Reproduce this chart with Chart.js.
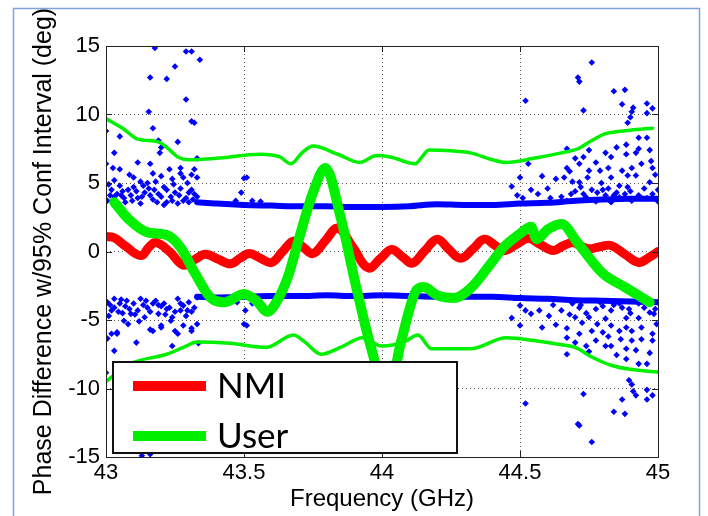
<!DOCTYPE html>
<html>
<head>
<meta charset="utf-8">
<script src="https://cdn.jsdelivr.net/npm/chart.js@4.4.1/dist/chart.umd.min.js"></script>
<style>
    html, body { margin: 0; padding: 0; background: #fff; }
    #chart-body { display: block; }
</style>
</head>
<body>
<canvas id="chart-body" width="708" height="516"></canvas>
<script>
const freqTicks = [43, 43.5, 44, 44.5, 45];
const phaseTicks = [-15, -10, -5, 0, 5, 10, 15];

// NMI phase difference
const nmiFreq = [43.0, 43.03, 43.07, 43.126, 43.155, 43.18, 43.23, 43.28, 43.32, 43.36, 43.405, 43.45, 43.485, 43.52, 43.56, 43.6, 43.64, 43.68, 43.715, 43.75, 43.795, 43.84, 43.895, 43.95, 43.995, 44.035, 44.075, 44.11, 44.155, 44.2, 44.24, 44.285, 44.33, 44.37, 44.41, 44.44, 44.485, 44.53, 44.575, 44.62, 44.655, 44.69, 44.72, 44.75, 44.79, 44.83, 44.88, 44.93, 44.97, 45.0];
const nmiPhase = [1.1, 1.0, 0.4, -0.3, 0.3, 0.66, 0.0, -1.0, -0.6, -0.2, -0.55, -0.9, -0.5, -0.15, -0.5, -0.8, 0.0, 0.75, 0.3, -0.15, 0.8, 1.7, 0.3, -1.2, -0.5, 0.15, -0.4, -0.85, 0.05, 0.9, 0.2, -0.5, 0.2, 0.9, 0.45, 0.05, 0.5, 0.95, 0.5, 0.07, 0.4, 0.66, 0.4, 0.2, 0.35, 0.44, -0.2, -0.8, -0.4, 0.0];

// User phase difference
const userFreq = [43.03, 43.08, 43.15, 43.22, 43.27, 43.32, 43.38, 43.43, 43.5, 43.545, 43.585, 43.62, 43.66, 43.7, 43.75, 43.795, 43.85, 43.91, 43.96, 44.02, 44.07, 44.12, 44.15, 44.2, 44.26, 44.32, 44.39, 44.44, 44.5, 44.54, 44.56, 44.6, 44.65, 44.71, 44.8, 44.88, 44.97];
const userPhase = [3.6, 2.4, 1.4, 1.2, 0.3, -1.5, -3.4, -3.7, -3.1, -3.6, -4.4, -3.6, -1.8, 1.0, 4.3, 6.1, 2.5, -2.9, -7.0, -10.5, -6.5, -3.0, -2.6, -3.2, -3.4, -2.7, -1.0, 0.3, 1.3, 1.8, 0.9, 1.6, 2.0, 0.6, -1.6, -2.6, -3.7];

// 95% confidence interval bounds
const upperCiFreq = [43.0, 43.06, 43.115, 43.19, 43.22, 43.26, 43.3, 43.4, 43.56, 43.63, 43.67, 43.71, 43.75, 43.84, 43.92, 43.98, 44.03, 44.12, 44.145, 44.17, 44.25, 44.32, 44.4, 44.45, 44.55, 44.65, 44.71, 44.76, 44.81, 44.9, 44.98];
const upperCiPhase = [9.7, 9.0, 8.2, 8.0, 7.6, 6.9, 6.7, 6.8, 7.1, 6.9, 6.4, 7.2, 7.7, 7.1, 6.5, 7.0, 6.9, 6.4, 6.9, 7.4, 7.35, 7.2, 6.7, 6.5, 6.8, 7.2, 7.5, 8.1, 8.6, 8.85, 9.0];
const lowerCiFreq = [43.0, 43.05, 43.1, 43.22, 43.28, 43.33, 43.45, 43.58, 43.68, 43.72, 43.78, 43.85, 43.93, 44.0, 44.08, 44.13, 44.18, 44.32, 44.45, 44.55, 44.65, 44.7, 44.76, 44.83, 44.9, 45.0];
const lowerCiPhase = [-9.5, -8.7, -8.1, -7.5, -7.0, -6.6, -6.7, -7.0, -6.1, -6.6, -7.5, -7.0, -6.3, -6.9, -6.6, -6.1, -7.1, -7.1, -6.3, -6.5, -6.8, -7.0, -7.7, -8.3, -8.6, -8.8];

// dense blue bands of the measured points
const bandFreq = [43.33, 43.4, 43.5, 43.6, 43.7, 43.8, 43.9, 44.0, 44.1, 44.2, 44.3, 44.4, 44.5, 44.6, 44.7, 44.8, 44.9, 45.0];
const upperBand = [3.6, 3.5, 3.4, 3.35, 3.3, 3.3, 3.25, 3.25, 3.3, 3.45, 3.4, 3.4, 3.5, 3.55, 3.7, 3.8, 3.85, 3.85];
const lowerBand = [-3.3, -3.35, -3.3, -3.25, -3.25, -3.2, -3.25, -3.2, -3.25, -3.3, -3.3, -3.3, -3.4, -3.45, -3.55, -3.6, -3.65, -3.7];

// scattered blue points [GHz, deg]
const upperScatterLeft = [
    [43.177, 14.85], [43.29, 14.6], [43.31, 14.6], [43.34, 14.0], [43.25, 13.5], [43.16, 12.7], [43.22, 12.6],
    [43.29, 11.1], [43.155, 10.2], [43.31, 9.5], [43.32, 9.4], [43.17, 9.0], [43.0, 8.8], [43.05, 8.4],
    [43.26, 8.0], [43.19, 8.1], [43.2, 7.6], [43.195, 7.2], [43.03, 7.2], [43.33, 6.8], [43.0, 6.4],
    [43.115, 6.5], [43.16, 6.4], [43.025, 6.1], [43.05, 6.0], [43.23, 6.0], [43.27, 6.1], [43.32, 6.0],
    [43.17, 5.7], [43.2, 5.5], [43.085, 5.6], [43.1, 5.4], [43.28, 5.4], [43.31, 5.6], [43.33, 5.4],
    [43.27, 5.7], [43.24, 5.3], [43.125, 5.1], [43.15, 5.0], [43.18, 5.1], [43.03, 5.2], [43.05, 4.8],
    [43.245, 4.9], [43.295, 5.0], [43.02, 4.5], [43.08, 4.5], [43.1, 4.7], [43.21, 4.7], [43.22, 4.5],
    [43.27, 4.6], [43.31, 4.5], [43.04, 4.2], [43.09, 4.1], [43.14, 4.3], [43.16, 4.1], [43.19, 4.2],
    [43.235, 4.0], [43.265, 4.1], [43.29, 3.9], [43.32, 4.2], [43.005, 3.7], [43.065, 3.9], [43.115, 3.9],
    [43.125, 3.5], [43.185, 3.6], [43.22, 3.6], [43.26, 3.5], [43.28, 3.7], [43.03, 4.0], [43.33, 4.0],
    [43.01, 4.9], [43.06, 4.4], [43.07, 3.6], [43.11, 4.4], [43.135, 4.8], [43.2, 4.0], [43.25, 4.3],
    [43.3, 4.3], [43.045, 3.5], [43.17, 3.8], [43.3, 3.6], [43.015, 4.1], [43.095, 3.7], [43.155, 4.6],
    [43.21, 3.4], [43.24, 3.7], [43.315, 3.8], [43.035, 3.3], [43.055, 4.1], [43.13, 4.0], [43.175, 4.5],
    [43.51, 5.4], [43.5, 5.35], [43.49, 4.3], [43.53, 3.7], [43.47, 3.7], [43.56, 3.65]
];
const upperScatterRight = [
    [44.76, 13.8], [44.71, 12.7], [44.715, 12.4], [44.84, 11.7], [44.88, 11.8], [44.52, 11.0], [44.73, 10.3],
    [44.87, 10.75], [44.91, 10.5], [44.96, 10.8], [44.98, 10.45], [44.905, 10.2], [44.96, 10.1], [44.9, 9.8],
    [44.89, 9.4], [44.93, 8.3], [44.96, 8.3], [44.885, 7.8], [44.85, 7.6], [44.93, 7.5], [44.67, 7.5],
    [44.75, 7.4], [44.81, 7.2], [44.885, 7.1], [44.92, 7.2], [44.97, 7.4], [44.7, 6.8], [44.73, 6.9],
    [44.83, 6.9], [44.975, 6.6], [44.98, 6.1], [44.53, 6.4], [44.67, 6.1], [44.715, 6.4], [44.775, 6.5],
    [44.82, 6.1], [44.905, 6.1], [44.94, 6.4], [44.68, 5.85], [44.75, 5.9], [44.79, 5.9], [44.87, 5.9],
    [44.5, 5.4], [44.58, 5.5], [44.66, 5.4], [44.745, 5.4], [44.83, 5.4], [44.89, 5.55], [44.92, 5.55],
    [44.47, 4.75], [44.63, 5.3], [44.715, 5.05], [44.795, 5.0], [44.86, 4.8], [44.97, 5.05], [44.54, 4.5],
    [44.6, 4.6], [44.72, 4.7], [44.76, 4.5], [44.82, 4.6], [44.89, 4.7], [45.0, 4.5], [44.49, 4.1],
    [44.565, 4.2], [44.685, 4.2], [44.74, 3.95], [44.81, 4.1], [44.86, 3.95], [44.93, 4.1], [44.51, 3.9],
    [44.61, 3.9], [44.67, 3.7], [44.775, 3.65], [44.83, 3.6], [44.905, 3.7], [44.96, 3.9], [45.0, 3.65],
    [44.7, 4.4], [44.78, 4.3], [44.85, 4.3], [44.95, 4.6], [44.65, 4.0], [44.88, 4.2], [44.99, 5.6],
    [44.73, 4.2], [44.8, 4.5], [44.84, 4.1], [44.9, 4.4], [44.94, 3.9], [44.98, 4.2], [44.69, 5.1]
];
const lowerScatterLeft = [
    [43.005, -3.7], [43.03, -4.1], [43.05, -3.8], [43.085, -4.2], [43.1, -3.8], [43.125, -3.45], [43.15, -4.1],
    [43.17, -3.8], [43.19, -4.55], [43.22, -4.2], [43.24, -4.8], [43.26, -3.45], [43.28, -3.95], [43.295, -4.3],
    [43.32, -4.1], [43.33, -3.35], [43.01, -4.7], [43.02, -6.0], [43.04, -5.9], [43.11, -6.65], [43.17, -5.8],
    [43.2, -5.4], [43.235, -5.05], [43.25, -5.8], [43.28, -5.4], [43.31, -5.6], [43.33, -5.3], [43.005, -6.35],
    [43.03, -7.25], [43.065, -5.05], [43.14, -4.8], [43.09, -4.55], [43.06, -4.5], [43.03, -3.45], [43.07, -4.0],
    [43.21, -3.8], [43.23, -4.1], [43.29, -4.7], [43.335, -6.7], [43.16, -5.7], [43.24, -6.9], [43.26, -6.0],
    [43.2, -5.55], [43.31, -5.8], [43.0, -6.4], [43.0, -8.85], [43.13, -14.9], [43.16, -14.8], [43.04, -6.0],
    [43.015, -3.9], [43.045, -4.4], [43.075, -3.6], [43.115, -4.3], [43.135, -3.9], [43.16, -4.4], [43.18, -3.6],
    [43.2, -4.0], [43.25, -4.4], [43.27, -3.8], [43.3, -3.7], [43.31, -4.4], [43.12, -5.1], [43.08, -5.3],
    [43.02, -4.3], [43.055, -3.5], [43.105, -4.6], [43.145, -3.6], [43.19, -3.9], [43.215, -4.6], [43.27, -4.3],
    [43.5, -5.3], [43.51, -5.4], [43.53, -3.8], [43.475, -3.7], [43.505, -4.3]
];
const lowerScatterRight = [
    [44.47, -4.85], [44.5, -5.4], [44.52, -11.1], [44.73, -10.4], [44.71, -12.6], [44.715, -12.7], [44.76, -13.9],
    [44.84, -11.7], [44.88, -11.85], [44.87, -10.8], [44.895, -9.4], [44.905, -9.7], [44.91, -10.2], [44.92, -10.5],
    [44.96, -10.1], [44.98, -10.5], [44.96, -10.8], [44.93, -8.2], [44.96, -8.2], [44.885, -7.85], [44.85, -7.55],
    [44.67, -7.5], [44.75, -7.3], [44.81, -6.9], [44.83, -6.9], [44.885, -7.1], [44.92, -7.2], [44.97, -7.4],
    [44.7, -6.65], [44.74, -6.9], [44.775, -6.5], [44.82, -6.2], [44.865, -6.4], [44.905, -6.5], [44.94, -6.4],
    [44.98, -6.5], [44.67, -6.3], [44.715, -6.0], [44.76, -5.8], [44.8, -5.9], [44.86, -5.8], [44.905, -5.8],
    [44.98, -6.0], [44.58, -5.55], [44.63, -5.35], [44.67, -5.6], [44.725, -5.2], [44.78, -5.3], [44.83, -5.4],
    [44.885, -5.55], [44.94, -5.55], [44.995, -5.3], [44.54, -4.55], [44.605, -4.7], [44.7, -4.8], [44.75, -4.8],
    [44.81, -4.9], [44.885, -4.85], [44.93, -4.85], [44.985, -4.55], [44.52, -4.3], [44.57, -4.3], [44.65, -4.3],
    [44.715, -4.1], [44.775, -4.2], [44.83, -4.3], [44.895, -4.2], [44.97, -4.45], [45.0, -3.7], [44.5, -3.95],
    [44.69, -3.8], [44.79, -3.7], [44.86, -3.8], [44.93, -3.8], [44.62, -3.9], [44.74, -4.5], [44.9, -4.5],
    [44.72, -3.9], [44.8, -4.0], [44.84, -3.9], [44.95, -4.1], [44.99, -4.2], [44.68, -4.6], [44.87, -4.1]
];

const legendItems = ['NMI', 'User'];

const toPoints = (xs, ys) => xs.map((x, i) => ({ x: x, y: ys[i] }));
const pairPoints = pairs => pairs.map(p => ({ x: p[0], y: p[1] }));

const BLUE = '#0000ff';
const RED = '#ff0000';
const GREEN = '#00f000';

function lineSet(label, data, color, width, order, smooth) {
    const set = {
        label: label,
        data: data,
        showLine: true,
        borderColor: color,
        backgroundColor: color,
        borderWidth: width,
        pointRadius: 0,
        borderCapStyle: 'round',
        borderJoinStyle: 'round',
        order: order
    };
    if (smooth === 'monotone') {
        set.cubicInterpolationMode = 'monotone';
    } else {
        set.tension = 0.4;
    }
    return set;
}

function scatterSet(data) {
    return {
        label: '',
        data: data,
        showLine: false,
        pointStyle: 'rectRot',
        pointRadius: 3.3,
        pointBorderWidth: 0,
        backgroundColor: BLUE,
        borderColor: BLUE,
        order: 10
    };
}

const frameBorder = {
    id: 'frameBorder',
    beforeDraw(chart) {
        const ctx = chart.ctx;
        ctx.save();
        ctx.fillStyle = '#fff';
        ctx.fillRect(0, 0, chart.width, chart.height);
        ctx.strokeStyle = '#7fa3dc';
        ctx.lineWidth = 1.5;
        ctx.strokeRect(13.5, 8.5, 686, 530);
        ctx.restore();
    }
};

const axesBox = {
    id: 'axesBox',
    afterDatasetsDraw(chart) {
        const { ctx, chartArea: a, scales: { x, y } } = chart;
        ctx.save();
        ctx.strokeStyle = '#222';
        ctx.lineWidth = 1;
        ctx.strokeRect(Math.round(a.left) + 0.5, Math.round(a.top) + 0.5,
            Math.round(a.right - a.left), Math.round(a.bottom - a.top));
        ctx.beginPath();
        freqTicks.forEach(v => {
            const px = Math.round(x.getPixelForValue(v)) + 0.5;
            ctx.moveTo(px, a.bottom); ctx.lineTo(px, a.bottom - 6);
            ctx.moveTo(px, a.top); ctx.lineTo(px, a.top + 6);
        });
        phaseTicks.forEach(v => {
            const py = Math.round(y.getPixelForValue(v)) + 0.5;
            ctx.moveTo(a.left, py); ctx.lineTo(a.left + 6, py);
            ctx.moveTo(a.right, py); ctx.lineTo(a.right - 6, py);
        });
        ctx.stroke();
        ctx.restore();
    }
};

const boxLegend = {
    id: 'boxLegend',
    afterDraw(chart) {
        const { ctx, chartArea: a } = chart;
        const left = a.left + 7, top = 362, w = 344, h = 91;
        ctx.save();
        ctx.fillStyle = '#fff';
        ctx.fillRect(left, top, w, h);
        ctx.strokeStyle = '#111';
        ctx.lineWidth = 2;
        ctx.strokeRect(left, top, w, h);
        const colors = [RED, GREEN];
        legendItems.forEach((name, i) => {
            const yy = top + 24 + i * 50;
            ctx.strokeStyle = colors[i];
            ctx.lineWidth = 10;
            ctx.lineCap = 'butt';
            ctx.beginPath();
            ctx.moveTo(left + 20, yy);
            ctx.lineTo(left + 93, yy);
            ctx.stroke();
            ctx.fillStyle = '#000';
            ctx.font = '35px Lato, "Open Sans", sans-serif';
            ctx.textBaseline = 'middle';
            ctx.fillText(name, left + 104, yy + 1);
        });
        ctx.restore();
    }
};

function initializeChart() {
    const ctx = document.getElementById('chart-body').getContext('2d');
    window.chart = new Chart(ctx, {
        type: 'scatter',
        data: {
            datasets: [
                lineSet('User', toPoints(userFreq, userPhase), GREEN, 10, 0, 'monotone'),
                lineSet('NMI', toPoints(nmiFreq, nmiPhase), RED, 9, 2),
                lineSet('CI upper', toPoints(upperCiFreq, upperCiPhase), GREEN, 3.5, 1, 'monotone'),
                lineSet('CI lower', toPoints(lowerCiFreq, lowerCiPhase), GREEN, 3.5, 1, 'monotone'),
                lineSet('band upper', toPoints(bandFreq, upperBand), BLUE, 6, 9, 'monotone'),
                lineSet('band lower', toPoints(bandFreq, lowerBand), BLUE, 6, 9, 'monotone'),
                scatterSet(pairPoints(upperScatterLeft)),
                scatterSet(pairPoints(upperScatterRight)),
                scatterSet(pairPoints(lowerScatterLeft)),
                scatterSet(pairPoints(lowerScatterRight))
            ]
        },
        options: {
            responsive: false,
            devicePixelRatio: 1,
            animation: { duration: 0 },
            layout: { padding: { top: 46, right: 50, left: 0, bottom: 0 } },
            plugins: {
                legend: { display: false },
                tooltip: { enabled: false }
            },
            scales: {
                x: {
                    type: 'linear',
                    min: 43,
                    max: 45,
                    afterBuildTicks: s => { s.ticks = freqTicks.map(v => ({ value: v })); },
                    afterFit: s => { s.height = 59; },
                    grid: { color: '#555', lineWidth: 1, drawTicks: false },
                    border: { display: false, dash: [1, 3] },
                    ticks: {
                        color: '#000',
                        padding: 3,
                        maxRotation: 0,
                        callback: v => String(v),
                        font: { family: '"Liberation Sans", Arial, sans-serif', size: 22 }
                    },
                    title: {
                        display: true,
                        text: 'Frequency (GHz)',
                        color: '#000',
                        font: { family: '"Liberation Sans", Arial, sans-serif', size: 24, lineHeight: 1 },
                        padding: { top: 0, bottom: 5 }
                    }
                },
                y: {
                    type: 'linear',
                    min: -15,
                    max: 15,
                    afterBuildTicks: s => { s.ticks = phaseTicks.map(v => ({ value: v })); },
                    afterFit: s => { s.width = 106; },
                    grid: { color: '#555', lineWidth: 1, drawTicks: false },
                    border: { display: false, dash: [1, 3] },
                    ticks: {
                        color: '#000',
                        padding: 6,
                        callback: v => String(v),
                        font: { family: '"Liberation Sans", Arial, sans-serif', size: 22 }
                    },
                    title: {
                        display: true,
                        text: 'Phase Difference w/95% Conf Interval (deg)',
                        color: '#000',
                        font: { family: '"Liberation Sans", Arial, sans-serif', size: 25, lineHeight: 1 },
                        padding: { top: 32, bottom: 0 }
                    }
                }
            }
        },
        plugins: [frameBorder, axesBox, boxLegend]
    });
}

initializeChart();
</script>
</body>
</html>
